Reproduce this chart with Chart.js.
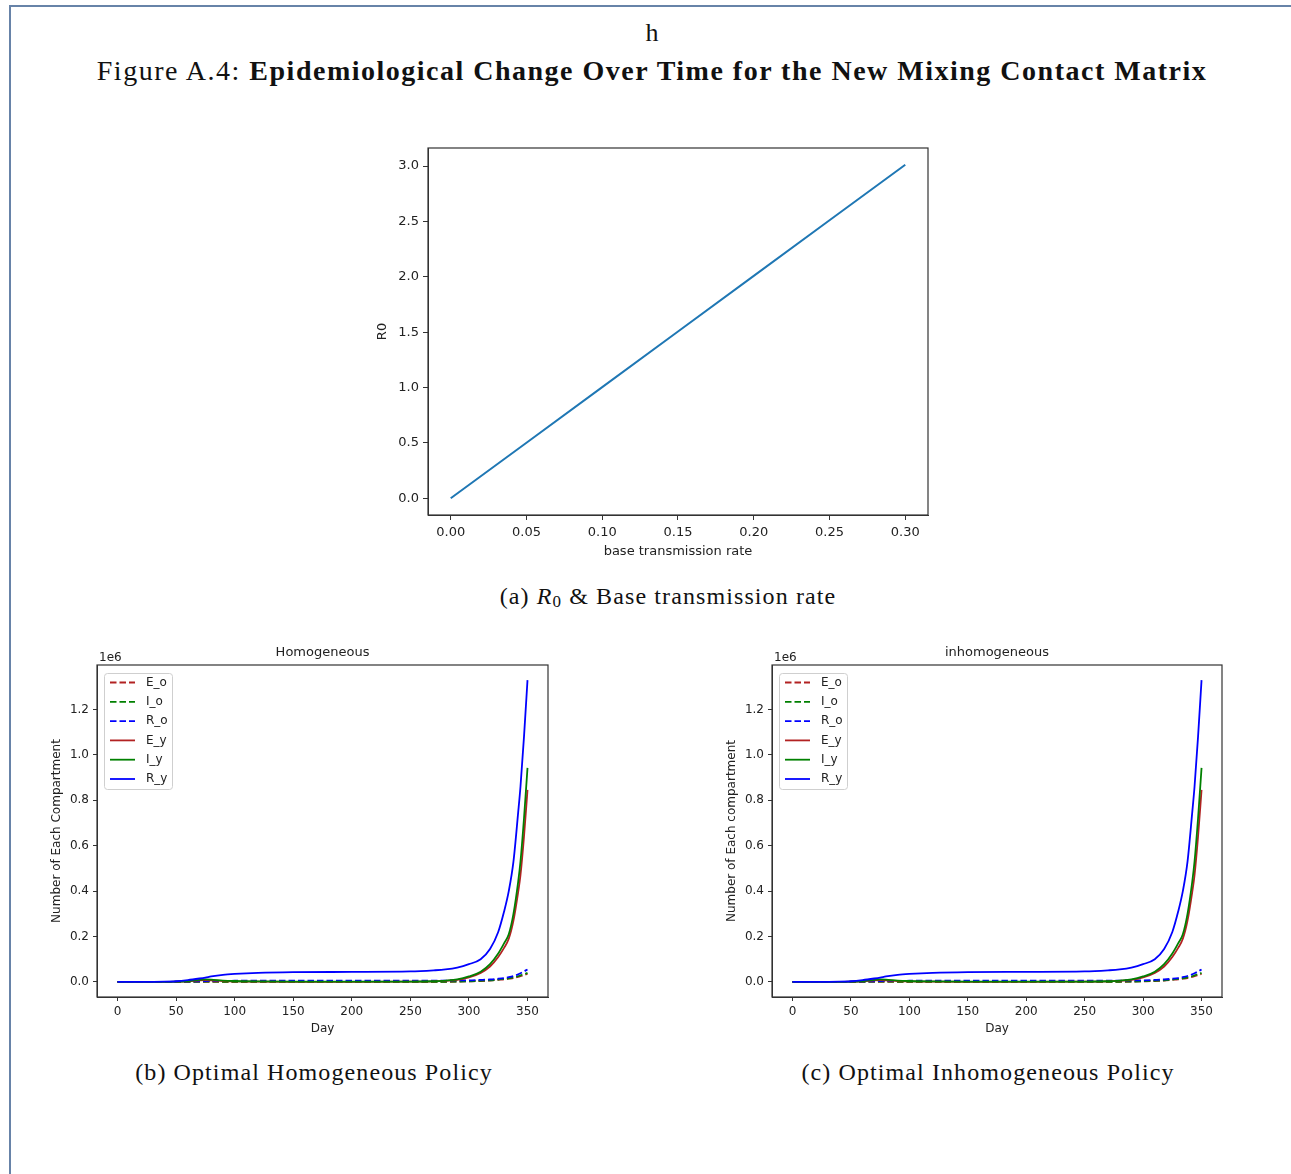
<!DOCTYPE html>
<html>
<head>
<meta charset="utf-8">
<title>Figure A.4</title>
<script src="https://cdn.jsdelivr.net/npm/chart.js@4.4.0/dist/chart.umd.min.js"></script>
<style>
  body { margin: 0; background: #fff; width: 1291px; height: 1174px; position: relative; overflow: hidden; }
  .frame { position: absolute; left: 9px; top: 5px; right: -5px; bottom: -5px;
           border-top: 2px solid #6783a8; border-left: 2px solid #6783a8; }
  .txt { position: absolute; white-space: nowrap; color: #111; transform: translateX(-50%);
         font-family: "Liberation Serif", serif; line-height: 1; }
  canvas { position: absolute; }
</style>
</head>
<body>
<div class="frame"></div>
<div class="txt" style="left:652px; top:20px; font-size:26px;">h</div>
<div class="txt" style="left:652px; top:57px; font-size:28px; letter-spacing:1.5px;">Figure A.4: <b>Epidemiological Change Over Time for the New Mixing Contact Matrix</b></div>

<canvas id="r0Chart" width="580" height="430" style="left:360px; top:140px;"></canvas>
<div class="txt" style="left:668px; top:584px; font-size:24px; letter-spacing:1.1px;">(a) <i>R</i><sub style="font-size:17px; vertical-align:-3px;">0</sub> &amp; Base transmission rate</div>

<canvas id="homChart" width="520" height="400" style="left:40px; top:640px;"></canvas>
<canvas id="inhomChart" width="520" height="400" style="left:715px; top:640px;"></canvas>
<div class="txt" style="left:314px; top:1060px; font-size:24px; letter-spacing:1.1px;">(b) Optimal Homogeneous Policy</div>
<div class="txt" style="left:988px; top:1060px; font-size:24px; letter-spacing:1.1px;">(c) Optimal Inhomogeneous Policy</div>

<script>
// R0 against the base transmission rate
const beta = [0, 0.05, 0.10, 0.15, 0.20, 0.25, 0.30];
const r0 = [0, 0.502, 1.004, 1.506, 2.008, 2.51, 3.012];
const betaTicks = [0, 0.05, 0.10, 0.15, 0.20, 0.25, 0.30];
const r0Ticks = [0, 0.5, 1.0, 1.5, 2.0, 2.5, 3.0];

// compartment sizes per day, in millions (axis offset 1e6)
const days = [0, 20, 40, 50, 60, 70, 75, 80, 90, 100, 120, 150, 200, 250, 270, 280, 290, 300, 310, 318, 325, 330, 334, 338, 342, 344, 347, 350];
const E_o = [0, 0, 0, 0, 0.0003, 0.0006, 0.0007, 0.0007, 0.0005, 0.0003, 0.0002, 0.0002, 0.0002, 0.0002, 0.0003, 0.0006, 0.0012, 0.0025, 0.004, 0.006, 0.009, 0.011, 0.014, 0.017, 0.022, 0.025, 0.03, 0.035];
const I_o = [0, 0, 0, 0, 0.0005, 0.001, 0.001, 0.001, 0.0008, 0.0005, 0.0003, 0.0003, 0.0003, 0.0003, 0.0004, 0.0008, 0.0015, 0.003, 0.005, 0.007, 0.01, 0.013, 0.016, 0.02, 0.025, 0.029, 0.034, 0.04];
const R_o = [0, 0, 0, 0.001, 0.002, 0.003, 0.0035, 0.004, 0.0045, 0.005, 0.005, 0.005, 0.005, 0.005, 0.0055, 0.006, 0.0065, 0.007, 0.009, 0.011, 0.014, 0.017, 0.021, 0.026, 0.033, 0.038, 0.046, 0.055];
const E_y = [0, 0, 0, 0.001, 0.003, 0.007, 0.008, 0.007, 0.004, 0.002, 0.001, 0.0005, 0.0005, 0.001, 0.002, 0.005, 0.009, 0.02, 0.04, 0.068, 0.11, 0.15, 0.19, 0.27, 0.395, 0.47, 0.64, 0.846];
const I_y = [0, 0, 0, 0.001, 0.004, 0.009, 0.011, 0.010, 0.006, 0.004, 0.002, 0.001, 0.001, 0.001, 0.003, 0.006, 0.011, 0.024, 0.045, 0.078, 0.125, 0.17, 0.21, 0.30, 0.44, 0.53, 0.72, 0.943];
const R_y = [0, 0, 0.001, 0.003, 0.008, 0.015, 0.019, 0.024, 0.031, 0.035, 0.040, 0.043, 0.044, 0.046, 0.051, 0.055, 0.063, 0.078, 0.10, 0.145, 0.22, 0.31, 0.40, 0.53, 0.745, 0.86, 1.08, 1.33];
const dayTicks = [0, 50, 100, 150, 200, 250, 300, 350];
const countTicks = [0, 0.2, 0.4, 0.6, 0.8, 1.0, 1.2];

const SANS = '"DejaVu Sans", sans-serif';
const INK = '#222';

const fixTicks = list => scale => { scale.ticks = list.map(v => ({ value: v })); };
// pin the axis box size and drop the label overflow padding so the plot area stays put
const fixSize = (w, h) => scale => {
  if (w != null) scale.width = w;
  if (h != null) scale.height = h;
  scale.paddingTop = scale.paddingBottom = 0;
  scale.paddingLeft = scale.paddingRight = 0;
};

// axes box drawn round the plot area
const framePlugin = {
  id: 'frame',
  afterDatasetsDraw(chart) {
    const { ctx, chartArea: a } = chart;
    ctx.save();
    ctx.strokeStyle = '#333';
    ctx.lineWidth = 1.2;
    ctx.strokeRect(a.left, a.top, a.right - a.left, a.bottom - a.top);
    ctx.restore();
  }
};

// legend inside the upper left corner plus the "1e6" multiplier
const insideLegend = {
  id: 'insideLegend',
  afterDraw(chart) {
    const { ctx, chartArea: a } = chart;
    ctx.save();
    ctx.font = '12px ' + SANS;
    ctx.fillStyle = INK;
    ctx.textBaseline = 'middle';
    ctx.fillText('1e6', a.left + 2, a.top - 7);

    const x0 = a.left + 7, y0 = a.top + 8;
    ctx.fillStyle = 'rgba(255,255,255,0.8)';
    ctx.strokeStyle = '#cfcfcf';
    ctx.lineWidth = 1;
    ctx.beginPath();
    ctx.roundRect(x0 + 0.5, y0 + 0.5, 68, 116, 3);
    ctx.fill();
    ctx.stroke();

    chart.data.datasets.forEach((ds, i) => {
      const y = y0 + 9.5 + i * 19.3;
      ctx.strokeStyle = ds.borderColor;
      ctx.lineWidth = ds.borderWidth;
      ctx.setLineDash(ds.borderDash || []);
      ctx.beginPath();
      ctx.moveTo(x0 + 6, y);
      ctx.lineTo(x0 + 31, y);
      ctx.stroke();
      ctx.setLineDash([]);
      ctx.fillStyle = INK;
      ctx.fillText(ds.label, x0 + 42, y);
    });
    ctx.restore();
  }
};

Chart.defaults.font.family = SANS;
Chart.defaults.color = INK;

new Chart(document.getElementById('r0Chart'), {
  type: 'line',
  data: {
    datasets: [{
      data: beta.map((b, i) => ({ x: b, y: r0[i] })),
      borderColor: '#1f77b4',
      borderWidth: 2,
      pointRadius: 0
    }]
  },
  options: {
    responsive: false,
    animation: false,
    devicePixelRatio: 1,
    layout: { padding: { top: 8, right: 12, left: 0, bottom: 0 } },
    plugins: { legend: { display: false }, tooltip: { enabled: false } },
    scales: {
      x: {
        type: 'linear', min: -0.015, max: 0.315,
        afterBuildTicks: fixTicks(betaTicks),
        afterFit: fixSize(null, 55),
        grid: { drawOnChartArea: false, tickLength: 5, tickColor: '#333' },
        border: { color: '#333' },
        ticks: { font: { size: 13 }, padding: 5, maxRotation: 0, callback: v => v.toFixed(2) },
        title: { display: true, text: 'base transmission rate', font: { size: 13 }, padding: { top: 0, bottom: 10.2 } }
      },
      y: {
        min: -0.1506, max: 3.1626,
        afterBuildTicks: fixTicks(r0Ticks),
        afterFit: fixSize(68, null),
        grid: { drawOnChartArea: false, tickLength: 5, tickColor: '#333' },
        border: { color: '#333' },
        ticks: { font: { size: 13 }, padding: 4, callback: v => v.toFixed(1) },
        title: { display: true, text: 'R0', font: { size: 13 }, padding: { top: 15.2, bottom: 0 } }
      }
    }
  },
  plugins: [framePlugin]
});

function compartmentChart(id, title, yTitle, rightPad) {
  const series = [
    ['E_o', E_o, '#b22222', [6.5, 3]],
    ['I_o', I_o, '#008000', [6.5, 3]],
    ['R_o', R_o, '#0000ff', [6.5, 3]],
    ['E_y', E_y, '#b22222', []],
    ['I_y', I_y, '#008000', []],
    ['R_y', R_y, '#0000ff', []]
  ];
  return new Chart(document.getElementById(id), {
    type: 'line',
    data: {
      datasets: series.map(([label, vals, color, dash], i) => ({
        label,
        data: days.map((d, k) => ({ x: d, y: vals[k] })),
        borderColor: color,
        borderWidth: 1.8,
        borderDash: dash,
        pointRadius: 0,
        cubicInterpolationMode: 'monotone',
        order: series.length - i
      }))
    },
    options: {
      responsive: false,
      animation: false,
      devicePixelRatio: 1,
      layout: { padding: { top: 0, right: rightPad, left: 0, bottom: 0 } },
      plugins: {
        legend: { display: false },
        tooltip: { enabled: false },
        title: {
          display: true, text: title, fullSize: false, color: INK,
          font: { size: 13, weight: 'normal' }, padding: { top: 5, bottom: 4.4 }
        }
      },
      scales: {
        x: {
          type: 'linear', min: -17.5, max: 367.5,
          afterBuildTicks: fixTicks(dayTicks),
          afterFit: fixSize(null, 43),
          grid: { drawOnChartArea: false, tickLength: 4, tickColor: '#333' },
          border: { color: '#333' },
          ticks: { font: { size: 12 }, padding: 4, maxRotation: 0, callback: v => String(v) },
          title: { display: true, text: 'Day', font: { size: 12 }, padding: { top: 0, bottom: 3.8 } }
        },
        y: {
          min: -0.0665, max: 1.3965,
          afterBuildTicks: fixTicks(countTicks),
          afterFit: fixSize(57, null),
          grid: { drawOnChartArea: false, tickLength: 4, tickColor: '#333' },
          border: { color: '#333' },
          ticks: { font: { size: 12 }, padding: 4, callback: v => v.toFixed(1) },
          title: { display: true, text: yTitle, font: { size: 12 }, padding: { top: 9.8, bottom: 0 } }
        }
      }
    },
    plugins: [framePlugin, insideLegend]
  });
}

compartmentChart('homChart', 'Homogeneous', 'Number of Each Compartment', 12);
compartmentChart('inhomChart', 'inhomogeneous', 'Number of Each compartment', 13);
</script>
</body>
</html>
